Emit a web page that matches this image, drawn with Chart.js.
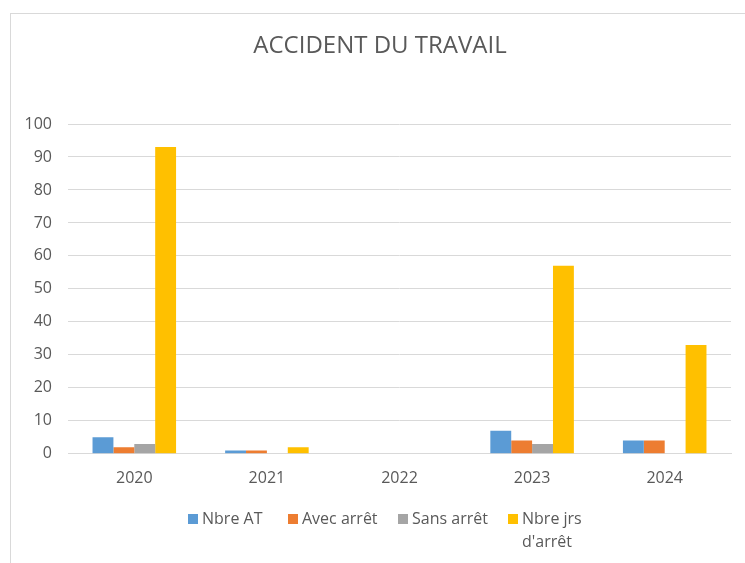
<!DOCTYPE html>
<html>
<head>
<meta charset="utf-8">
<script src="https://cdn.jsdelivr.net/npm/chart.js@4.4.1/dist/chart.umd.min.js"></script>
<style>
  body { margin: 0; background: #fff; }
  #box { width: 745px; height: 563px; }
</style>
</head>
<body>
<div id="box"><canvas id="chart"></canvas></div>
<script>
var years = ["2020", "2021", "2022", "2023", "2024"];
var nbreAT = [5, 1, 0, 7, 4];
var avecArret = [2, 1, 0, 4, 4];
var sansArret = [3, 0, 0, 3, 0];
var nbreJrs = [93, 2, 0, 57, 33];
var seriesNames = ["Nbre AT", "Avec arrêt", "Sans arrêt", ["Nbre jrs", "d'arrêt"]];
var seriesColors = ["#5b9bd5", "#ed7d31", "#a5a5a5", "#ffc000"];
var yTicks = [0, 10, 20, 30, 40, 50, 60, 70, 80, 90, 100];

var textColor = "#595959";
var fontName = "'Open Sans', sans-serif";

// frame, title and legend drawn by hand so the last legend item can wrap
var decor = {
  id: "decor",
  beforeDraw: function (chart) {
    var ctx = chart.ctx;
    ctx.save();
    ctx.strokeStyle = "#d9d9d9";
    ctx.lineWidth = 1;
    ctx.strokeRect(10.5, 13.5, 800, 600);
    ctx.restore();
  },
  afterDraw: function (chart) {
    var ctx = chart.ctx;
    ctx.save();
    ctx.fillStyle = textColor;
    ctx.font = "24px " + fontName;
    ctx.textAlign = "center";
    ctx.textBaseline = "middle";
    ctx.fillText("ACCIDENT DU TRAVAIL", 380, 46);

    var xs = [188, 288, 398, 508];
    ctx.font = "16px " + fontName;
    ctx.textAlign = "left";
    chart.data.datasets.forEach(function (ds, i) {
      ctx.fillStyle = ds.backgroundColor;
      ctx.fillRect(xs[i], 514, 10, 10);
      ctx.fillStyle = textColor;
      var lines = [].concat(seriesNames[i]);
      lines.forEach(function (t, k) {
        ctx.fillText(t, xs[i] + 14, 519 + k * 23);
      });
    });
    ctx.restore();
  }
};

new Chart(document.getElementById("chart"), {
  type: "bar",
  plugins: [decor],
  data: {
    labels: years,
    datasets: [
      { label: "Nbre AT", data: nbreAT, backgroundColor: seriesColors[0] },
      { label: "Avec arrêt", data: avecArret, backgroundColor: seriesColors[1] },
      { label: "Sans arrêt", data: sansArret, backgroundColor: seriesColors[2] },
      { label: "Nbre jrs d'arrêt", data: nbreJrs, backgroundColor: seriesColors[3] }
    ]
  },
  options: {
    responsive: true,
    maintainAspectRatio: false,
    animation: false,
    layout: { padding: { top: 124, left: 22, right: 14, bottom: 68 } },
    datasets: { bar: { categoryPercentage: 0.63, barPercentage: 1 } },
    plugins: {
      legend: { display: false },
      tooltip: { enabled: false }
    },
    scales: {
      x: {
        grid: { display: false },
        border: { color: "#d9d9d9" },
        ticks: { color: textColor, font: { family: fontName, size: 16 }, padding: 7 }
      },
      y: {
        min: 0,
        max: 100,
        afterBuildTicks: function (axis) {
          axis.ticks = yTicks.map(function (v) { return { value: v }; });
        },
        afterFit: function (axis) { axis.width = 46; },
        grid: { color: "#d9d9d9", drawTicks: false },
        border: { display: false },
        ticks: { color: textColor, font: { family: fontName, size: 16 }, padding: 16 }
      }
    }
  }
});
</script>
</body>
</html>
